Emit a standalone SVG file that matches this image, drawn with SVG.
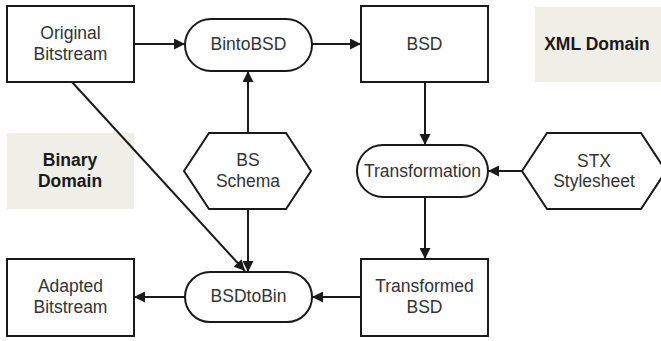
<svg xmlns="http://www.w3.org/2000/svg" width="661" height="341" viewBox="0 0 661 341">
  <style>
    .shape { fill: #ffffff; stroke: #1a1a1a; stroke-width: 2; }
    .domain { fill: #efefe7; stroke: none; }
    .label { font-family: "Liberation Sans", Arial, sans-serif; font-size: 17.5px; fill: #333333; text-anchor: middle; }
    .dlabel { font-family: "Liberation Sans", Arial, sans-serif; font-size: 17.5px; font-weight: bold; fill: #1a1a1a; text-anchor: middle; }
    .edge { fill: none; stroke: #1a1a1a; stroke-width: 2; marker-end: url(#arrow); }
  </style>
  <defs>
    <marker id="arrow" viewBox="0 0 10 10" refX="10" refY="5" markerWidth="11" markerHeight="11" markerUnits="userSpaceOnUse" orient="auto">
      <path d="M0,0 L10,5 L0,10 Z" fill="#1a1a1a"/>
    </marker>
  </defs>
  <rect width="661" height="341" fill="#ffffff"/>

  <!-- domain backgrounds -->
  <g id="xml-domain">
    <rect class="domain" x="535" y="7" width="126" height="75"/>
    <text class="dlabel" x="597" y="50">XML Domain</text>
  </g>
  <g id="binary-domain">
    <rect class="domain" x="7" y="133" width="127" height="76"/>
    <text class="dlabel" x="70" y="166">Binary</text>
    <text class="dlabel" x="70" y="187">Domain</text>
  </g>

  <!-- connectors -->
  <g id="connectors">
    <line class="edge" x1="134" y1="44" x2="185" y2="44"/>
    <line class="edge" x1="312" y1="44" x2="361" y2="44"/>
    <line class="edge" x1="248" y1="133" x2="248" y2="71"/>
    <line class="edge" x1="248" y1="209" x2="248" y2="272"/>
    <line class="edge" x1="72" y1="82" x2="245" y2="271"/>
    <line class="edge" x1="425" y1="82" x2="425" y2="145"/>
    <line class="edge" x1="522" y1="171" x2="488" y2="171"/>
    <line class="edge" x1="425" y1="197" x2="425" y2="259"/>
    <line class="edge" x1="361" y1="297" x2="312" y2="297"/>
    <line class="edge" x1="185" y1="297" x2="134" y2="297"/>
  </g>

  <!-- nodes -->
  <g id="original-bitstream">
    <rect class="shape" x="7" y="6" width="127" height="76"/>
    <text class="label" x="70.5" y="39">Original</text>
    <text class="label" x="70.5" y="60">Bitstream</text>
  </g>
  <g id="bintobsd">
    <rect class="shape" x="185" y="19" width="127" height="52" rx="26" ry="26"/>
    <text class="label" x="248.5" y="50">BintoBSD</text>
  </g>
  <g id="bsd">
    <rect class="shape" x="361" y="6" width="127" height="76"/>
    <text class="label" x="424.5" y="50">BSD</text>
  </g>
  <g id="bs-schema">
    <polygon class="shape" points="184,171 209,133 286,133 311,171 286,209 209,209"/>
    <text class="label" x="248" y="166">BS</text>
    <text class="label" x="248" y="187">Schema</text>
  </g>
  <g id="transformation">
    <rect class="shape" x="357" y="145" width="131" height="52" rx="26" ry="26"/>
    <text class="label" x="422.5" y="177">Transformation</text>
  </g>
  <g id="stx-stylesheet">
    <polygon class="shape" points="522,171 547,133 641,133 666,171 641,209 547,209"/>
    <text class="label" x="594" y="167">STX</text>
    <text class="label" x="594" y="187">Stylesheet</text>
  </g>
  <g id="adapted-bitstream">
    <rect class="shape" x="7" y="259" width="127" height="77"/>
    <text class="label" x="70.5" y="292">Adapted</text>
    <text class="label" x="70.5" y="313">Bitstream</text>
  </g>
  <g id="bsdtobin">
    <rect class="shape" x="185" y="272" width="127" height="50" rx="25" ry="25"/>
    <text class="label" x="248.5" y="302">BSDtoBin</text>
  </g>
  <g id="transformed-bsd">
    <rect class="shape" x="361" y="259" width="127" height="77"/>
    <text class="label" x="424.5" y="292">Transformed</text>
    <text class="label" x="424.5" y="313">BSD</text>
  </g>
</svg>
